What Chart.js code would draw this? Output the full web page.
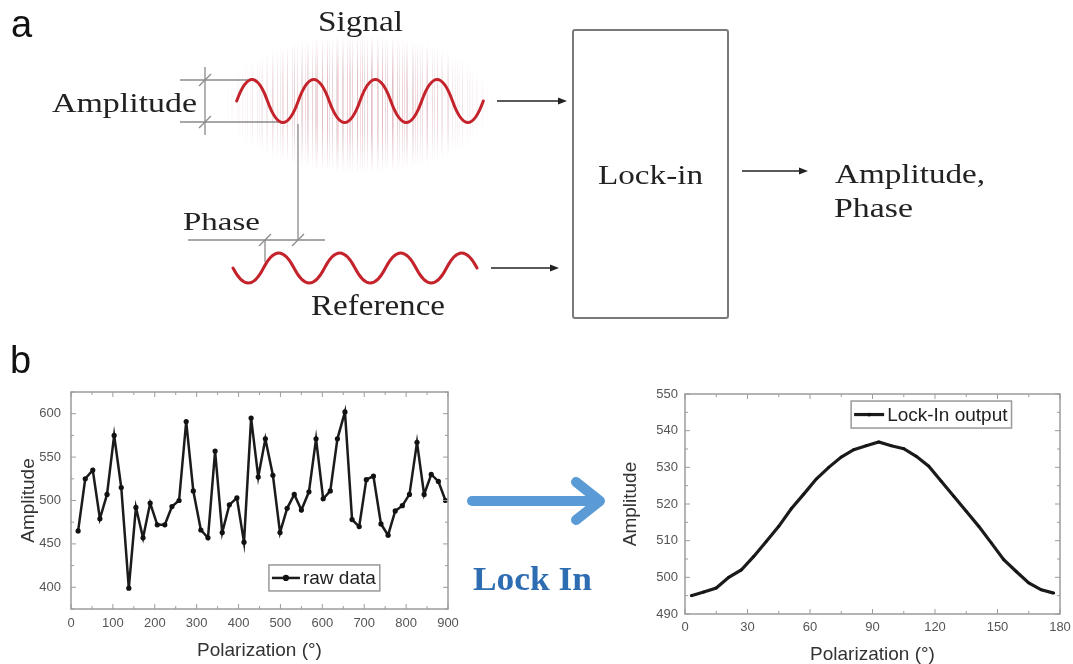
<!DOCTYPE html>
<html>
<head>
<meta charset="utf-8">
<script src="https://cdn.jsdelivr.net/npm/chart.js@4.4.0/dist/chart.umd.min.js"></script>
<style>
  body { margin: 0; background: #fff; }
  #page { position: relative; width: 1073px; height: 664px; overflow: hidden; background: #fff; }
  #rawChart { position: absolute; left: 0; top: 380px; }
  #lockChart { position: absolute; left: 590px; top: 380px; }
  #sketch { position: absolute; left: 0; top: 0; pointer-events: none; z-index: 2; }
  #noise {
    position: absolute; left: 222px; top: 34px; width: 274px; height: 140px;
    background:
      repeating-linear-gradient(90deg, rgba(214,140,150,0.40) 0 1px, transparent 1px 5px),
      repeating-linear-gradient(90deg, transparent 0 2px, rgba(185,160,170,0.35) 2px 3px, transparent 3px 7px),
      repeating-linear-gradient(90deg, transparent 0 6px, rgba(225,150,165,0.35) 6px 7px, transparent 7px 11px);
    -webkit-mask-image: radial-gradient(ellipse 50% 50% at 50% 50%, #000 40%, transparent 100%);
    mask-image: radial-gradient(ellipse 50% 50% at 50% 50%, #000 40%, transparent 100%);
    z-index: 1;
  }
</style>
</head>
<body>
<div id="page">
  <div id="noise"></div>
  <canvas id="rawChart" width="470" height="284"></canvas>
  <canvas id="lockChart" width="483" height="284"></canvas>
  <svg id="sketch" width="1073" height="664" viewBox="0 0 1073 664">
    <g font-family="'Liberation Serif', 'Times New Roman', serif" fill="#222">
      <text x="318" y="31" font-size="29" textLength="85" lengthAdjust="spacingAndGlyphs">Signal</text>
      <text x="52" y="112" font-size="28" textLength="145" lengthAdjust="spacingAndGlyphs">Amplitude</text>
      <text x="183" y="230" font-size="26" textLength="77" lengthAdjust="spacingAndGlyphs">Phase</text>
      <text x="311" y="315" font-size="29" textLength="134" lengthAdjust="spacingAndGlyphs">Reference</text>
      <text x="598" y="184" font-size="28" textLength="105" lengthAdjust="spacingAndGlyphs">Lock-in</text>
      <text x="835" y="183" font-size="28" textLength="150" lengthAdjust="spacingAndGlyphs">Amplitude,</text>
      <text x="834" y="217" font-size="28" textLength="79" lengthAdjust="spacingAndGlyphs">Phase</text>
    </g>
    <g font-family="'Liberation Sans', Arial, sans-serif" fill="#111" font-size="38">
      <text x="11" y="37">a</text>
      <text x="10" y="373">b</text>
    </g>
    <!-- amplitude and phase markers -->
    <g stroke="#8a8a8a" stroke-width="1.3" fill="none">
      <line x1="180" y1="80" x2="250" y2="80"/>
      <line x1="180" y1="122" x2="285" y2="122"/>
      <line x1="205" y1="67" x2="205" y2="135"/>
      <line x1="199" y1="86" x2="211" y2="74"/>
      <line x1="199" y1="128" x2="211" y2="116"/>
      <line x1="188" y1="240" x2="325" y2="240"/>
      <line x1="259" y1="246" x2="271" y2="234"/>
      <line x1="292" y1="246" x2="304" y2="234"/>
      <line x1="265" y1="240" x2="265" y2="262"/>
      <line x1="298" y1="124" x2="298" y2="240"/>
    </g>
    <!-- waves -->
    <g stroke="#c4232b" stroke-width="3" fill="none" stroke-linecap="round">
      <path d="M236.7,101 Q252.1,58 267.5,101 T298.3,101 T329.2,101 T360,101 T390.8,101 T421.7,101 T452.5,101 T483.3,101"/>
      <path d="M233,268 Q248.3,298 263.5,268 T294,268 T324.5,268 T355,268 T385.5,268 T416,268 T446.5,268 T477,268"/>
    </g>
    <!-- lock-in box and arrows -->
    <rect x="573" y="30" width="155" height="288" rx="2" fill="none" stroke="#7a7a7a" stroke-width="2"/>
    <g stroke="#222" stroke-width="1.4">
      <line x1="497" y1="101" x2="561" y2="101"/>
      <line x1="491" y1="268" x2="553" y2="268"/>
      <line x1="742" y1="171" x2="802" y2="171"/>
    </g>
    <g fill="#222">
      <polygon points="567,101 558,97.5 558,104.5"/>
      <polygon points="559,268 550,264.5 550,271.5"/>
      <polygon points="808,171 799,167.5 799,174.5"/>
    </g>
    <!-- lock in arrow -->
    <g stroke="#5b9bd5" stroke-width="10" fill="none" stroke-linecap="round" stroke-linejoin="round">
      <line x1="472" y1="501" x2="596" y2="501"/>
      <polyline points="576,482 600,501 576,520"/>
    </g>
    <text x="473" y="590" font-family="'Liberation Serif', 'Times New Roman', serif" font-weight="bold" font-size="34" fill="#2f6db3" textLength="119" lengthAdjust="spacingAndGlyphs">Lock In</text>
  </svg>
</div>
<script>
// raw data panel
const rawAngles = [17, 34, 52, 69, 86, 103, 120, 138, 155, 172, 189, 206, 224, 241, 258, 275, 292, 310, 327, 344,
                   361, 378, 396, 413, 430, 447, 464, 482, 499, 516, 533, 550, 568, 585, 602, 619, 636, 654, 671, 688,
                   705, 722, 740, 757, 774, 791, 808, 826, 843, 860, 877, 894];
const rawAmplitude = [465, 525, 535, 479, 507, 575, 515, 399, 492, 457, 497, 472, 472, 493, 500, 591, 511, 466, 457, 557,
                      463, 495, 503, 452, 595, 527, 571, 529, 463, 491, 507, 489, 510, 571, 502, 511, 571, 602, 478, 470,
                      524, 528, 473, 460, 488, 494, 507, 567, 507, 530, 522, 500];
const rawXTicks = [0, 100, 200, 300, 400, 500, 600, 700, 800, 900];
const rawYTicks = [400, 450, 500, 550, 600];

// lock-in output panel
const lockAngles = [3, 9, 15, 21, 27, 33, 39, 45, 51, 57, 63, 69, 75, 81, 87, 93, 99, 105, 111, 117,
                    123, 129, 135, 141, 147, 153, 159, 165, 171, 177];
const lockAmplitude = [495.0, 496.0, 497.1, 500.0, 502.0, 505.7, 509.8, 513.9, 518.7, 522.7, 526.8, 530.0, 532.8, 534.8, 535.9,
                       536.9, 535.9, 535.1, 533.0, 530.3, 526.2, 522.1, 518.0, 513.9, 509.4, 504.8, 501.6, 498.5, 496.6, 495.7];
const lockXTicks = [0, 30, 60, 90, 120, 150, 180];
const lockYTicks = [490, 500, 510, 520, 530, 540, 550];

const frame = {
    id: 'frame',
    afterDraw(chart, args, opts) {
        const {ctx, chartArea: a, scales: {x, y}} = chart;
        ctx.save();
        ctx.strokeStyle = '#9c9c9c';
        ctx.lineWidth = 1.5;
        ctx.strokeRect(a.left, a.top, a.width, a.height);
        ctx.lineWidth = 1;
        ctx.beginPath();
        for (let v = Math.ceil(x.min / opts.xMinor) * opts.xMinor; v <= x.max; v += opts.xMinor) {
            const px = x.getPixelForValue(v);
            const len = v % opts.xMajor === 0 ? 5 : 3;
            ctx.moveTo(px, a.bottom); ctx.lineTo(px, a.bottom - len);
            ctx.moveTo(px, a.top); ctx.lineTo(px, a.top + len);
        }
        for (let v = Math.ceil(y.min / opts.yMinor) * opts.yMinor; v <= y.max; v += opts.yMinor) {
            const py = y.getPixelForValue(v);
            const len = v % opts.yMajor === 0 ? 5 : 3;
            ctx.moveTo(a.left, py); ctx.lineTo(a.left + len, py);
            ctx.moveTo(a.right, py); ctx.lineTo(a.right - len, py);
        }
        ctx.stroke();
        ctx.restore();
    }
};

const boxLegend = {
    id: 'boxLegend',
    afterDraw(chart, args, opts) {
        const {ctx, chartArea: a} = chart;
        const ds = chart.data.datasets[0];
        const x = a.left + opts.left * a.width;
        const y = a.top + opts.top * a.height;
        ctx.save();
        ctx.font = opts.font;
        const tw = ctx.measureText(ds.label).width;
        const w = opts.sample + 6 + tw + 4;
        const h = opts.height;
        ctx.fillStyle = '#fff';
        ctx.fillRect(x, y, w, h);
        ctx.strokeStyle = '#999';
        ctx.lineWidth = 1.5;
        ctx.strokeRect(x, y, w, h);
        ctx.strokeStyle = ds.borderColor;
        ctx.lineWidth = ds.borderWidth;
        ctx.beginPath();
        ctx.moveTo(x + 3, y + h / 2);
        ctx.lineTo(x + 3 + opts.sample, y + h / 2);
        ctx.stroke();
        ctx.fillStyle = ds.pointBackgroundColor;
        ctx.beginPath();
        ctx.arc(x + 3 + opts.sample / 2, y + h / 2, ds.pointRadius + 0.5, 0, 2 * Math.PI);
        ctx.fill();
        ctx.fillStyle = '#222';
        ctx.textBaseline = 'middle';
        ctx.fillText(ds.label, x + opts.sample + 6, y + h / 2 + 1);
        ctx.restore();
    }
};

function makeChart(id, cfg) {
    const points = cfg.xs.map((v, i) => ({x: v, y: cfg.ys[i]}));
    return new Chart(document.getElementById(id), {
        type: 'line',
        data: {
            datasets: [{
                label: cfg.label,
                data: points,
                borderColor: '#1b1b1b',
                borderWidth: cfg.lineWidth,
                pointRadius: cfg.pointRadius,
                pointBackgroundColor: '#111',
                pointBorderWidth: 0,
                tension: 0
            }]
        },
        options: {
            responsive: false,
            animation: false,
            layout: {padding: cfg.padding},
            plugins: {
                legend: {display: false},
                tooltip: {enabled: false},
                frame: cfg.frame,
                boxLegend: cfg.legend
            },
            scales: {
                x: {
                    type: 'linear',
                    min: cfg.xMin, max: cfg.xMax,
                    grid: {display: false, drawTicks: false},
                    border: {display: false},
                    afterBuildTicks: s => { s.ticks = cfg.xTicks.map(v => ({value: v})); },
                    afterFit: s => { s.height = cfg.xHeight; s.paddingLeft = 0; s.paddingRight = 0; },
                    ticks: {color: '#555', font: {family: 'Liberation Sans, Arial', size: 13}, padding: cfg.xTickPad, maxRotation: 0},
                    title: {display: true, text: 'Polarization (°)', color: '#333',
                            font: {family: 'Liberation Sans, Arial', size: 19, lineHeight: 1}, padding: {top: 0, bottom: cfg.xTitlePad}}
                },
                y: {
                    min: cfg.yMin, max: cfg.yMax,
                    grid: {display: false, drawTicks: false},
                    border: {display: false},
                    afterBuildTicks: s => { s.ticks = cfg.yTicks.map(v => ({value: v})); },
                    afterFit: s => { s.width = cfg.yWidth; s.paddingTop = 0; s.paddingBottom = 0; },
                    ticks: {color: '#555', font: {family: 'Liberation Sans, Arial', size: 13}, padding: cfg.yTickPad},
                    title: {display: true, text: 'Amplitude', color: '#333',
                            font: {family: 'Liberation Sans, Arial', size: 19, lineHeight: 1}, padding: {top: cfg.yTitlePad, bottom: 0}}
                }
            }
        },
        plugins: [frame, boxLegend]
    });
}

makeChart('rawChart', {
    xs: rawAngles, ys: rawAmplitude, label: 'raw data',
    lineWidth: 2.5, pointRadius: 2.6,
    padding: {left: 0, right: 22, top: 12, bottom: 0},
    xMin: 0, xMax: 900, yMin: 375, yMax: 625,
    xTicks: rawXTicks, yTicks: rawYTicks,
    xHeight: 55, yWidth: 71, xTickPad: 7, xTitlePad: 4, yTickPad: 10, yTitlePad: 19,
    frame: {xMinor: 50, xMajor: 100, yMinor: 25, yMajor: 50},
    legend: {left: 0.525, top: 0.797, height: 26, sample: 28, font: '19px "Liberation Sans", Arial'}
});

makeChart('lockChart', {
    xs: lockAngles, ys: lockAmplitude, label: 'Lock-In output',
    lineWidth: 3.2, pointRadius: 1.4,
    padding: {left: 0, right: 13, top: 14, bottom: 0},
    xMin: 0, xMax: 180, yMin: 490, yMax: 550,
    xTicks: lockXTicks, yTicks: lockYTicks,
    xHeight: 50, yWidth: 95, xTickPad: 6, xTitlePad: 0, yTickPad: 7, yTitlePad: 31,
    frame: {xMinor: 15, xMajor: 30, yMinor: 5, yMajor: 10},
    legend: {left: 0.443, top: 0.032, height: 27, sample: 30, font: '19px "Liberation Sans", Arial'}
});
</script>
</body>
</html>
